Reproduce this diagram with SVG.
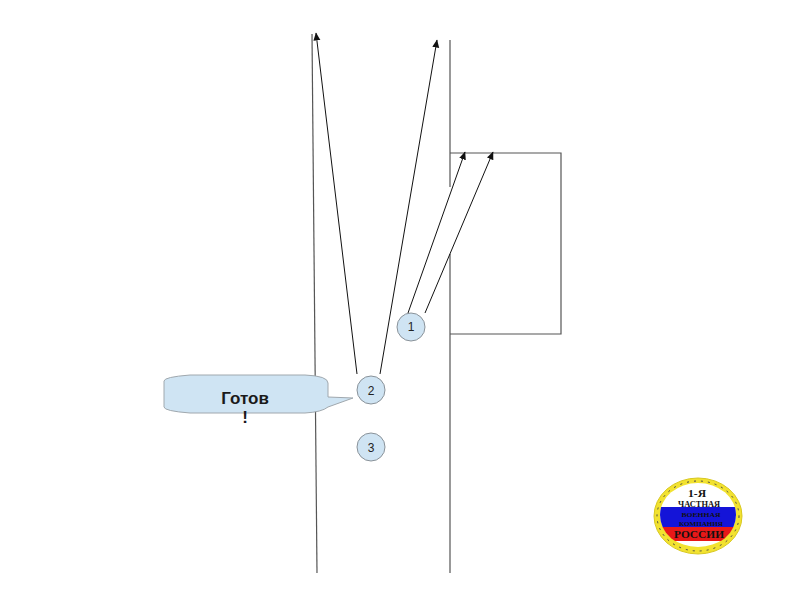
<svg xmlns="http://www.w3.org/2000/svg" width="794" height="595" viewBox="0 0 794 595">
<style>
.wall{fill:none;stroke:#555;stroke-width:1.2}
.arrow{fill:none;stroke:#111;stroke-width:1;marker-end:url(#ah)}
.c{fill:#cfe4f3;stroke:#8a9299;stroke-width:1}
.n{font:12px "Liberation Sans",Arial,sans-serif;fill:#222;text-anchor:middle}
.b{font:bold 17px "Liberation Sans",Arial,sans-serif;fill:#1a1a1a;text-anchor:middle}
.l{font-family:"Liberation Serif","Times New Roman",serif;font-weight:bold;fill:#111;text-anchor:middle}
</style>
<defs>
<marker id="ah" markerUnits="userSpaceOnUse" markerWidth="10" markerHeight="10" refX="7.5" refY="3.5" orient="auto"><path d="M0 0L8 3.5L0 7Z" fill="#111"/></marker>
<clipPath id="lc"><ellipse cx="698" cy="515" rx="38" ry="33"/></clipPath>
</defs>
<g id="walls">
<path class="wall" d="M312 34L317 573"/>
<path class="wall" d="M450 40V187M450 254V573"/>
<path class="wall" d="M450 153H561V334H450"/>
</g>
<g id="connectors">
<path class="arrow" d="M357 374L316 33"/>
<path class="arrow" d="M380 374L437 40"/>
<path class="arrow" d="M408 313L465 152"/>
<path class="arrow" d="M425 313L493 152"/>
</g>
<g id="callout">
<path d="M190 375H305Q328 376 328 383V397L353 398L328 407Q322 412 305 413H190Q164 411 164 407V381Q164 377 190 375Z" fill="#cfe4f3" stroke="#a0a8ae" stroke-width="1"/>
<text class="b" x="245" y="404">Готов</text>
<text class="b" x="245" y="423">!</text>
</g>
<g id="node1"><circle class="c" cx="411" cy="327" r="14"/><text class="n" x="411" y="331">1</text></g>
<g id="node2"><circle class="c" cx="371" cy="390" r="14"/><text class="n" x="371" y="395">2</text></g>
<g id="node3"><circle class="c" cx="371" cy="447" r="14"/><text class="n" x="371" y="452">3</text></g>
<g id="logo">
<ellipse cx="698" cy="516" rx="44" ry="38" fill="#f2e230" stroke="#d8c820" stroke-width="1"/>
<ellipse cx="698" cy="516" rx="41" ry="35" fill="none" stroke="#444" stroke-width="1" stroke-dasharray="2 5"/>
<ellipse cx="698" cy="515" rx="38" ry="32" fill="#fff"/>
<g clip-path="url(#lc)">
<rect x="660" y="507" width="76" height="20" fill="#1414d8"/>
<rect x="660" y="527" width="76" height="14" fill="#e81818"/>
</g>
<text class="l" x="697" y="497" font-size="11" textLength="18" lengthAdjust="spacingAndGlyphs">1-Я</text>
<text class="l" x="699" y="507" font-size="7.5" textLength="42" lengthAdjust="spacingAndGlyphs">ЧАСТНАЯ</text>
<text class="l" x="701" y="516.500" font-size="7" textLength="39" lengthAdjust="spacingAndGlyphs">ВОЕННАЯ</text>
<text class="l" x="701" y="525.500" font-size="7" textLength="44" lengthAdjust="spacingAndGlyphs">КОМПАНИЯ</text>
<text class="l" x="699" y="537.500" font-size="10.500" textLength="50" lengthAdjust="spacingAndGlyphs">РОССИИ</text>
</g>
</svg>
